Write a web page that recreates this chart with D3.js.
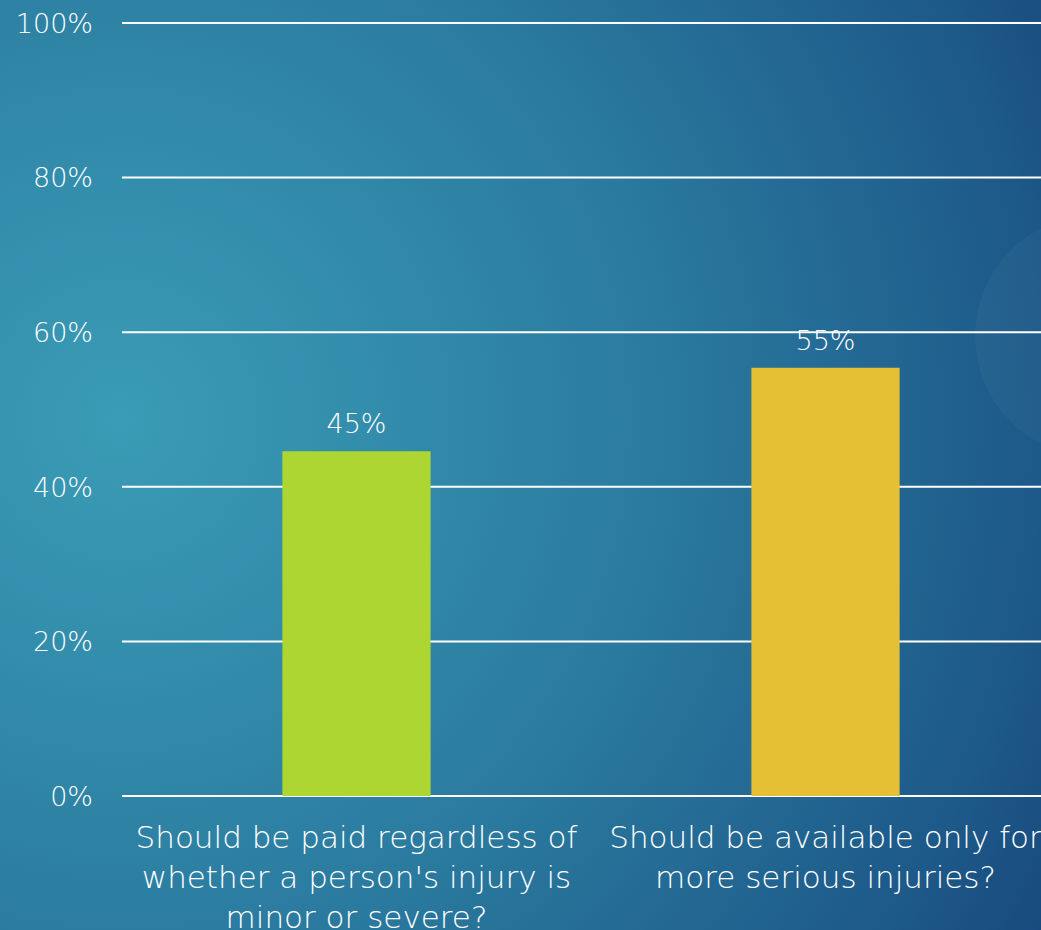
<!DOCTYPE html>
<html>
<head>
<meta charset="utf-8">
<script src="https://cdn.jsdelivr.net/npm/d3@7"></script>
<style>
  html, body { margin: 0; padding: 0; overflow: hidden; }
  svg { display: block; font-family: "Century Gothic", "DejaVu Sans", Lato, sans-serif; font-weight: 200; }
</style>
</head>
<body>
<div id="chart"></div>
<script>
// chart data
var categories = ["paid", "serious"];
var categoryLabels = [
  ["Should be paid regardless of", "whether a person's injury is", "minor or severe?"],
  ["Should be available only for", "more serious injuries?"]
];
var values = [44.6, 55.4];
var valueLabels = ["45%", "55%"];
var barColors = ["#add633", "#e5c034"];
var yTicks = [0, 20, 40, 60, 80, 100];

var W = 1041, H = 930;
var margin = {top: 23, right: -19, bottom: 134, left: 122},
    width = W - margin.left - margin.right,
    height = H - margin.top - margin.bottom;

var svg = d3.select("#chart")
  .append("svg")
    .attr("width", W)
    .attr("height", H);

// background
var defs = svg.append("defs");
var grad = defs.append("radialGradient")
    .attr("id", "bg")
    .attr("gradientUnits", "userSpaceOnUse")
    .attr("cx", 120).attr("cy", 420).attr("r", 1150);
grad.append("stop").attr("offset", "0%").attr("stop-color", "#3a9cb6");
grad.append("stop").attr("offset", "45%").attr("stop-color", "#2b7ca0");
grad.append("stop").attr("offset", "80%").attr("stop-color", "#1d5989");
grad.append("stop").attr("offset", "100%").attr("stop-color", "#143f75");

svg.append("rect")
    .attr("width", W).attr("height", H)
    .attr("fill", "url(#bg)");

// faint circle on the right edge
svg.append("circle")
    .attr("cx", 1096).attr("cy", 336).attr("r", 121)
    .attr("fill", "#ffffff")
    .attr("opacity", 0.03);

var g = svg.append("g")
    .attr("transform", "translate(" + margin.left + "," + margin.top + ")");

var x = d3.scaleBand()
    .domain(categories)
    .range([0, width])
    .paddingInner(0.684)
    .paddingOuter(0.342);

var y = d3.scaleLinear()
    .domain([0, 100])
    .range([height, 0]);

// gridlines
g.selectAll(".grid")
  .data(yTicks)
  .enter()
  .append("line")
    .attr("x1", 0)
    .attr("x2", width)
    .attr("y1", function(d) { return y(d); })
    .attr("y2", function(d) { return y(d); })
    .attr("stroke", "#ffffff")
    .attr("stroke-width", 2);

// y tick labels
g.selectAll(".ytick")
  .data(yTicks)
  .enter()
  .append("text")
    .attr("x", -29)
    .attr("y", function(d) { return y(d); })
    .attr("dy", "0.36em")
    .attr("text-anchor", "end")
    .attr("fill", "#ffffff")
    .style("font-size", "27px")
    .text(function(d) { return d + "%"; });

// bars
var data = categories.map(function(c, i) {
  return {cat: c, value: values[i], label: valueLabels[i], color: barColors[i], lines: categoryLabels[i]};
});

g.selectAll(".bar")
  .data(data)
  .enter()
  .append("rect")
    .attr("x", function(d) { return x(d.cat); })
    .attr("y", function(d) { return y(d.value); })
    .attr("width", x.bandwidth())
    .attr("height", function(d) { return height - y(d.value); })
    .attr("fill", function(d) { return d.color; });

// value labels
g.selectAll(".vlabel")
  .data(data)
  .enter()
  .append("text")
    .attr("x", function(d) { return x(d.cat) + x.bandwidth() / 2; })
    .attr("y", function(d) { return y(d.value) - 18; })
    .attr("text-anchor", "middle")
    .attr("fill", "#ffffff")
    .style("font-size", "27px")
    .text(function(d) { return d.label; });

// category labels
var cl = g.selectAll(".clabel")
  .data(data)
  .enter()
  .append("text")
    .attr("text-anchor", "middle")
    .attr("fill", "#ffffff")
    .style("font-size", "31px");

cl.selectAll("tspan")
  .data(function(d) { return d.lines.map(function(l) { return {cat: d.cat, text: l}; }); })
  .enter()
  .append("tspan")
    .attr("x", function(d) { return x(d.cat) + x.bandwidth() / 2; })
    .attr("y", function(d, i) { return height + 52 + i * 40; })
    .text(function(d) { return d.text; });
</script>
</body>
</html>
